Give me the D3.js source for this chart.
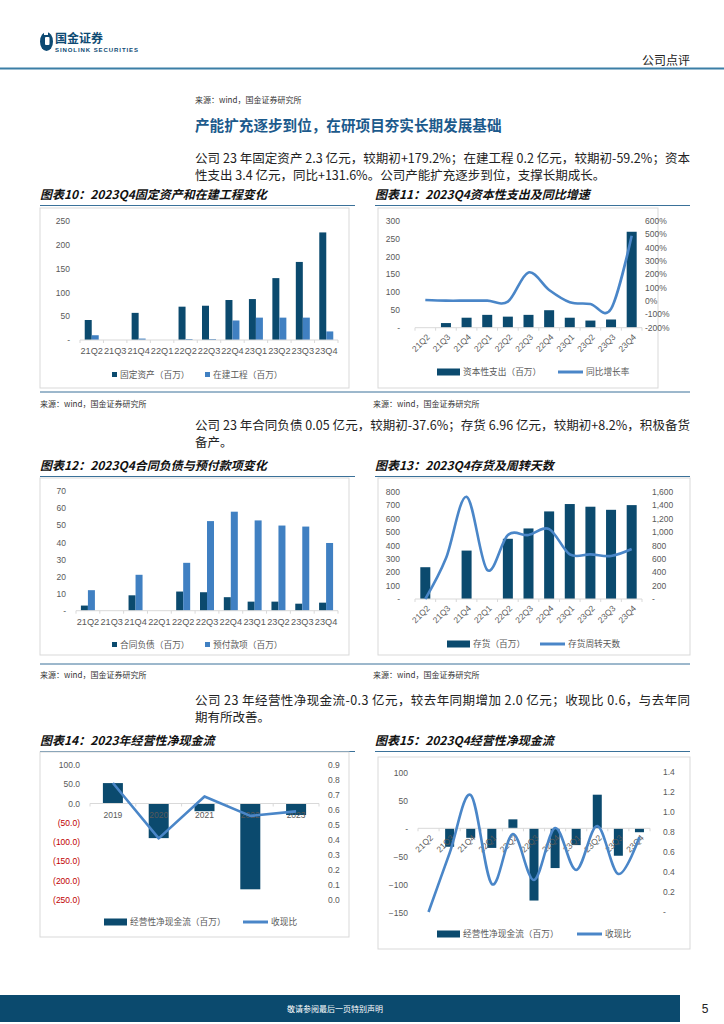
<!DOCTYPE html>
<html>
<head>
<meta charset="utf-8">
<script src="https://cdn.jsdelivr.net/npm/d3@7"></script>
<style>
body { margin: 0; background: #fff; }
svg { display: block; font-family: "Liberation Sans", "Noto Sans CJK SC", sans-serif; }
.cn { font-family: "Noto Sans CJK SC", sans-serif; }
</style>
</head>
<body>
<svg width="724" height="1024"></svg>
<script>
// data
var quarters = ["21Q2","21Q3","21Q4","22Q1","22Q2","22Q3","22Q4","23Q1","23Q2","23Q3","23Q4"];
var fixedAssets = [42, null, 57, null, 70, 72, 84, 86, 130, 164, 226];
var construction = [10, null, 3, null, 2, 2, 41, 47, 47, 47, 18];
var capex = [null, 13, 28, 36, 31, 36, 49, 28, 20, 23, 269];
var capexYoy = [5, 0, 0, 0, -7, 212, 80, -12, -25, -62, 487];
var contractLiab = [3, null, 9, null, 11.2, 10.8, 7.9, 5.3, 5.3, 4.1, 4.7];
var prepay = [12, null, 21, null, 28, 52.4, 57.9, 52.8, 49.8, 49.2, 39.6];
var inventory = [237, null, 361, null, 449, 526, 653, 708, 688, 665, 700];
var invDays = [0, 606, 1525, 432, 954, 954, 1043, 666, 666, 641, 745];
var years = ["2019","2020","2021","2022","2023"];
var ocfYear = [53, -90, -20, -223, -30];
var cashRatioYear = [0.78, 0.41, 0.69, 0.56, 0.59];
var ocfQ = [null, -33, -17, -35, 16, -129, -71, -30, 60, -49, -7];
var cashRatioQ = [0, 0.59, 1.17, 0.28, 0.78, 0.32, 0.84, 0.42, 0.86, 0.38, 0.75];

var ticks10 = [0, 50, 100, 150, 200, 250];
var ticks11L = [0, 50, 100, 150, 200, 250, 300];
var ticks11R = [-200, -100, 0, 100, 200, 300, 400, 500, 600];
var ticks12 = [0, 10, 20, 30, 40, 50, 60, 70];
var ticks13L = [0, 100, 200, 300, 400, 500, 600, 700, 800];
var ticks13R = [0, 200, 400, 600, 800, 1000, 1200, 1400, 1600];
var ticks14L = [-250, -200, -150, -100, -50, 0, 50, 100];
var ticks14R = [0, 0.1, 0.2, 0.3, 0.4, 0.5, 0.6, 0.7, 0.8, 0.9];
var ticks15L = [-150, -100, -50, 0, 50, 100];
var ticks15R = [0, 0.2, 0.4, 0.6, 0.8, 1.0, 1.2, 1.4];

var svg = d3.select("svg");
var navy = "#0b4a6e", lightBlue = "#4080c2", lineBlue = "#4a86c8", grey = "#595959", rule = "#3a7199";

function label(x, y, s, size, fill, anchor, cls) {
	return svg.append("text")
		.attr("class", cls || null)
		.attr("x", x).attr("y", y)
		.attr("font-size", size)
		.attr("fill", fill)
		.attr("text-anchor", anchor || "start")
		.text(s);
}

function hline(x1, x2, y, color, w) {
	svg.append("line").attr("x1", x1).attr("x2", x2).attr("y1", y).attr("y2", y)
		.attr("stroke", color).attr("stroke-width", w);
}

function box(x, y, w, h) {
	svg.append("rect").attr("x", x).attr("y", y).attr("width", w).attr("height", h)
		.attr("fill", "none").attr("stroke", "#d9d9d9");
}

function yAxis(scale, ticks, fmt, x, right, color) {
	var ax = right ? d3.axisRight(scale) : d3.axisLeft(scale);
	var g = svg.append("g").attr("transform", "translate(" + x + ",0)")
		.call(ax.tickValues(ticks).tickSize(0).tickPadding(0).tickFormat(fmt));
	g.select(".domain").remove();
	g.attr("font-family", null).attr("font-size", null);
	g.selectAll("text").attr("font-size", 8.5).attr("fill", color || grey);
	return g;
}

function xLabels(scale, y, rotate) {
	var g = svg.append("g").attr("transform", "translate(0," + y + ")")
		.call(d3.axisBottom(scale).tickSize(0).tickPadding(0));
	g.select(".domain").remove();
	g.attr("font-family", null).attr("font-size", null);
	var t = g.selectAll("text").attr("font-size", rotate ? 8.5 : 9.2).attr("fill", grey);
	if (rotate) {
		t.attr("y", 0).attr("dy", null).attr("text-anchor", "end")
			.attr("transform", "translate(5,10) rotate(-45)");
	}
}

function baseLine(scale, y) {
	var r = scale.range();
	hline(r[0], r[1], y, "#d9d9d9", 1);
	var edges = scale.domain().map(function(d){ return scale(d); }).concat([r[1]]);
	svg.append("g").selectAll("line").data(edges).enter().append("line")
		.attr("x1", function(d){ return d; }).attr("x2", function(d){ return d; })
		.attr("y1", y).attr("y2", y + 3)
		.attr("stroke", "#d9d9d9");
}

function bars(scale, y, values, color, width, offset) {
	var data = values.map(function(v, i){ return {c: scale.domain()[i], v: v}; })
		.filter(function(d){ return d.v !== null; });
	svg.append("g").selectAll("rect").data(data).enter().append("rect")
		.attr("x", function(d){ return scale(d.c) + scale.bandwidth() / 2 + offset; })
		.attr("y", function(d){ return Math.min(y(d.v), y(0)); })
		.attr("width", width)
		.attr("height", function(d){ return Math.abs(y(d.v) - y(0)); })
		.attr("fill", color);
}

function line(scale, y, values, curve) {
	var gen = d3.line()
		.x(function(d, i){ return scale(scale.domain()[i]) + scale.bandwidth() / 2; })
		.y(function(d){ return y(d); })
		.curve(curve);
	svg.append("path").datum(values).attr("d", gen)
		.attr("fill", "none").attr("stroke", lineBlue).attr("stroke-width", 2.6)
		.attr("stroke-linejoin", "round");
}

function legendSquare(x, y, color, s) {
	svg.append("rect").attr("x", x).attr("y", y - 3).attr("width", 5).attr("height", 5).attr("fill", color);
	label(x + 8, y + 3, s, 8.7, grey, "start", "cn");
}

function legendBar(x, y, s) {
	svg.append("rect").attr("x", x).attr("y", y - 3.5).attr("width", 23).attr("height", 7).attr("fill", navy);
	label(x + 26, y + 3, s, 8.7, grey, "start", "cn");
}

function legendLine(x, y, s) {
	hline(x, x + 25, y, lineBlue, 3);
	label(x + 28, y + 3, s, 8.7, grey, "start", "cn");
}

function title(x, y, x2, s) {
	label(x, y, s, 12, "#111", "start", "cn")
		.attr("font-weight", "bold").attr("font-style", "italic");
	hline(x, x2, y + 7, rule, 1.2);
}

function para(y, first, second) {
	label(195, y, first, 12.5, "#222", "start", "cn")
		.attr("textLength", 495).attr("lengthAdjust", "spacing");
	label(195, y + 17, second, 12.5, "#222", "start", "cn");
}

var dash = function(f){ return function(d){ return d === 0 ? "-" : f(d); }; };

// header
svg.append("ellipse").attr("cx", 46.5).attr("cy", 41.5).attr("rx", 6.5).attr("ry", 9.5).attr("fill", "#0d4a73");
svg.append("rect").attr("x", 45).attr("y", 37).attr("width", 4.5).attr("height", 8).attr("rx", 1).attr("fill", "#fff");
svg.append("rect").attr("x", 44).attr("y", 31).attr("width", 4).attr("height", 4).attr("fill", "#fff");
label(55, 42.5, "国金证券", 12, "#0d4a73", "start", "cn").attr("font-weight", "bold");
label(55, 52, "SINOLINK SECURITIES", 6, "#0d4a73").attr("font-weight", "bold")
	.attr("textLength", 83).attr("lengthAdjust", "spacing");
label(690, 65, "公司点评", 12, "#222", "end", "cn");
hline(0, 724, 68.5, "#3b7ea6", 2);

label(195, 103, "来源：wind，国金证券研究所", 8, "#333", "start", "cn");
label(195, 130.5, "产能扩充逐步到位，在研项目夯实长期发展基础", 14.6, "#1c5a8c", "start", "cn").attr("font-weight", "bold");
para(162.5, "公司 23 年固定资产 2.3 亿元，较期初+179.2%；在建工程 0.2 亿元，较期初-59.2%；资本",
	"性支出 3.4 亿元，同比+131.6%。公司产能扩充逐步到位，支撑长期成长。");

// chart 10
title(40, 198.5, 355, "图表10：2023Q4固定资产和在建工程变化");
box(40, 208, 309, 180);
var x10 = d3.scaleBand().domain(quarters).range([80, 338]);
var y10 = d3.scaleLinear().domain([0, 250]).range([340, 221]);
yAxis(y10, ticks10, dash(d3.format("d")), 70, false);
bars(x10, y10, fixedAssets, navy, 7, -7);
bars(x10, y10, construction, lightBlue, 7, 0);
baseLine(x10, 340);
xLabels(x10, 347, false);
legendSquare(112, 375, navy, "固定资产（百万）");
legendSquare(205, 375, lightBlue, "在建工程（百万）");

// chart 11
title(375, 198.5, 690, "图表11：2023Q4资本性支出及同比增速");
box(378, 208, 280, 180);
var x11 = d3.scaleBand().domain(quarters).range([415, 642]);
var y11 = d3.scaleLinear().domain([0, 300]).range([327.7, 220.7]);
var y11r = d3.scaleLinear().domain([-200, 600]).range([327.3, 220.7]);
yAxis(y11, ticks11L, dash(d3.format("d")), 400, false);
yAxis(y11r, ticks11R, function(d){ return d + "%"; }, 645, true);
bars(x11, y11, capex, navy, 10, -5);
baseLine(x11, 327.7);
xLabels(x11, 327.7, true);
line(x11, y11r, capexYoy, d3.curveCardinal.tension(0));
legendBar(437, 372, "资本性支出（百万）");
legendLine(558, 372, "同比增长率");

hline(40, 690, 392, rule, 1);
label(40, 407, "来源：wind，国金证券研究所", 8, "#333", "start", "cn");
label(373, 407, "来源：wind，国金证券研究所", 8, "#333", "start", "cn");
para(429.5, "公司 23 年合同负债 0.05 亿元，较期初-37.6%；存货 6.96 亿元，较期初+8.2%，积极备货", "备产。");

// chart 12
title(40, 469.5, 355, "图表12：2023Q4合同负债与预付款项变化");
box(40, 478, 309, 177);
var x12 = d3.scaleBand().domain(quarters).range([76, 338]);
var y12 = d3.scaleLinear().domain([0, 70]).range([610.7, 491]);
yAxis(y12, ticks12, dash(d3.format("d")), 66, false);
bars(x12, y12, contractLiab, navy, 7, -7);
bars(x12, y12, prepay, lightBlue, 7, 0);
baseLine(x12, 610.7);
xLabels(x12, 618, false);
legendSquare(112, 645, navy, "合同负债（百万）");
legendSquare(205, 645, lightBlue, "预付款项（百万）");

// chart 13
title(375, 469.5, 690, "图表13：2023Q4存货及周转天数");
box(378, 478, 312, 177);
var x13 = d3.scaleBand().domain(quarters).range([415, 642]);
var y13 = d3.scaleLinear().domain([0, 800]).range([599, 491.7]);
var y13r = d3.scaleLinear().domain([0, 1600]).range([599, 491.7]);
yAxis(y13, ticks13L, dash(d3.format("d")), 400, false);
yAxis(y13r, ticks13R, dash(d3.format(",")), 652, true);
bars(x13, y13, inventory, navy, 10, -5);
baseLine(x13, 599);
xLabels(x13, 599, true);
line(x13, y13r, invDays, d3.curveCardinal.tension(0));
legendBar(447, 644, "存货（百万）");
legendLine(540, 644, "存货周转天数");

hline(40, 690, 664, rule, 1);
label(40, 678, "来源：wind，国金证券研究所", 8, "#333", "start", "cn");
label(373, 678, "来源：wind，国金证券研究所", 8, "#333", "start", "cn");
para(704.5, "公司 23 年经营性净现金流-0.3 亿元，较去年同期增加 2.0 亿元；收现比 0.6，与去年同", "期有所改善。");

// chart 14
title(40, 744.5, 355, "图表14：2023年经营性净现金流");
box(40, 752, 309, 185);
var x14 = d3.scaleBand().domain(years).range([90, 319]);
var y14 = d3.scaleLinear().domain([-250, 100]).range([899.7, 765]);
var y14r = d3.scaleLinear().domain([0, 0.9]).range([899.7, 765]);
yAxis(y14, ticks14L, function(d){ return d < 0 ? "(" + d3.format(".1f")(-d) + ")" : d3.format(".1f")(d); }, 80, false)
	.selectAll("text").attr("fill", function(d){ return d < 0 ? "#c00000" : grey; });
yAxis(y14r, ticks14R, d3.format(".1f"), 328, true);
bars(x14, y14, ocfYear, navy, 20, -10);
baseLine(x14, y14(0));
svg.append("g").selectAll("text").data(years).enter().append("text")
	.attr("x", function(d){ return x14(d) + x14.bandwidth() / 2; })
	.attr("y", y14(0) + 15)
	.attr("text-anchor", "middle").attr("font-size", 8.5).attr("fill", grey)
	.text(function(d){ return d; });
line(x14, y14r, cashRatioYear, d3.curveLinear);
legendBar(104, 922, "经营性净现金流（百万）");
legendLine(243, 922, "收现比");

// chart 15
title(375, 744.5, 690, "图表15：2023Q4经营性净现金流");
box(378, 757, 312, 192);
var x15 = d3.scaleBand().domain(quarters).range([418, 650]);
var y15 = d3.scaleLinear().domain([-150, 100]).range([912.3, 772.3]);
var y15r = d3.scaleLinear().domain([0, 1.4]).range([912, 772]);
yAxis(y15, ticks15L, dash(d3.format("d")), 408, false);
yAxis(y15r, ticks15R, dash(d3.format(".1f")), 663, true);
bars(x15, y15, ocfQ, navy, 9, -4.5);
baseLine(x15, y15(0));
xLabels(x15, y15(0), true);
line(x15, y15r, cashRatioQ, d3.curveCardinal.tension(0));
legendBar(437, 934, "经营性净现金流（百万）");
legendLine(577, 934, "收现比");

// footer
svg.append("rect").attr("x", 0).attr("y", 995).attr("width", 680).attr("height", 27).attr("fill", "#0b4a6e");
label(335, 1011.5, "敬请参阅最后一页特别声明", 8, "#fff", "middle", "cn");
label(705, 1013, "5", 12, "#222", "middle");
</script>
</body>
</html>
